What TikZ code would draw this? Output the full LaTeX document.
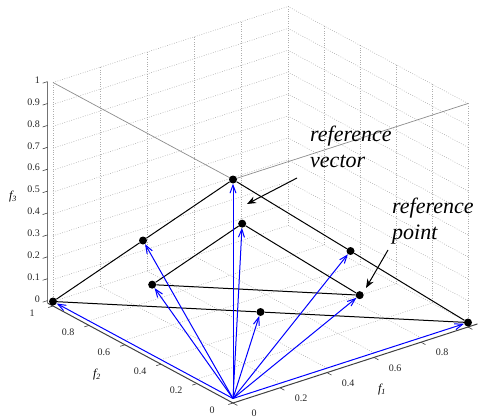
\documentclass[tikz,border=0pt]{standalone}
\usepackage{fontspec}
\setmainfont{Liberation Serif}
\newfontfamily\tnrfont{Liberation Serif}
\usetikzlibrary{arrows.meta}
\begin{document}
\begin{tikzpicture}[x=1pt,y=-1pt,
  gridline/.style={draw=black!32, line width=0.55pt, dash pattern=on 0.8pt off 1.6pt},
  boxedge/.style={draw=black!45, line width=0.7pt},
  axisline/.style={draw=black!75, line width=1pt},
  zaxisline/.style={draw=black!55, line width=1.1pt},
  tickmark/.style={draw=black!75, line width=0.6pt},
  ticklabel/.style={font=\tnrfont\fontsize{10}{12}\selectfont, inner sep=0pt, text=black!85},
  axislabel/.style={font=\tnrfont\fontsize{12}{14}\selectfont\itshape, inner sep=0pt},
  frontline/.style={draw=black, line width=1pt},
  vecarrow/.style={draw=blue, line width=1pt, -{Straight Barb[length=8pt,width=6pt]}},
  ptdot/.style={circle, fill=black, inner sep=0pt, minimum size=8pt},
  annot/.style={font=\tnrfont\fontsize{22}{26}\selectfont\itshape, align=left, inner sep=0pt},
  annotarrow/.style={draw=black, line width=1pt, -{Stealth[length=9pt,width=7pt]}}
]
\useasboundingbox (0,0) rectangle (485,420);
\coordinate (O) at (233,398.5);
\begin{scope}[shift={(O)}, x={(235pt,76pt)}, y={(-180pt,97pt)}, z={(0pt,219pt)}]
  % grid: floor
  \foreach \t in {0.2,0.4,0.6,0.8,1} {
    \draw[gridline] (\t,0,0) -- (\t,1,0);
    \draw[gridline] (0,\t,0) -- (1,\t,0);
  }
  % grid: walls
  \foreach \t in {0,0.2,0.4,0.6,0.8,1} {
    \draw[gridline] (\t,1,0) -- (\t,1,1);
    \draw[gridline] (1,\t,0) -- (1,\t,1);
  }
  \foreach \h in {0.1,0.2,0.3,0.4,0.5,0.6,0.7,0.8,0.9,1} {
    \draw[gridline] (0,1,\h) -- (1,1,\h);
    \draw[gridline] (1,0,\h) -- (1,1,\h);
  }
  % box edges
  \coordinate (TL) at (0,1,1);
  \coordinate (TF) at (0,0,1);
  \coordinate (TR) at (1,0,1);
  \draw[boxedge] (TL) -- (TF) -- (TR);
  % axes
  \coordinate (AO) at ([yshift=-4.5pt]0,0,0);
  \coordinate (AX) at ([yshift=-4.5pt]1.04,0,0);
  \coordinate (AY) at ([yshift=-4.5pt]0,1.03,0);
  \coordinate (AZ) at ([yshift=-2pt]0,1.03,1);
  \draw[axisline] (AX) -- (AO) -- (AY);
  \draw[zaxisline] (AY) -- (AZ);
  % f3 ticks
  \foreach \h in {0,0.1,0.2,0.3,0.4,0.5,0.6,0.7,0.8,0.9,1} {
    \coordinate (zt) at ([yshift=-2pt]0,1.03,\h);
    \draw[tickmark] (zt) -- ++(-5pt,-1.6pt);
    \node[ticklabel, anchor=east] at ([xshift=-7.5pt,yshift=1.5pt]zt) {\h};
  }
  % f2 ticks
  \foreach \t in {0,0.2,0.4,0.6,0.8,1} {
    \coordinate (yt) at ([yshift=-4.5pt]0,\t,0);
    \draw[tickmark] (yt) -- ++(-4.75pt,-1.5pt);
    \node[ticklabel] at ([xshift=-21pt,yshift=-11.5pt]0,\t,0) {\t};
  }
  % f1 ticks
  \foreach \t in {0,0.2,0.4,0.6,0.8} {
    \coordinate (xt) at ([yshift=-4.5pt]\t,0,0);
    \draw[tickmark] (xt) -- ++(4.4pt,-2.4pt);
    \node[ticklabel] at ([xshift=21pt,yshift=-15pt]\t,0,0) {\t};
  }
  \draw[tickmark] ([yshift=-4.5pt]1,0,0) -- ++(4.4pt,-2.4pt);
  % points
  \node[ptdot] (A) at (1,0,0) {};
  \node[ptdot] (B) at (0,1,0) {};
  \node[ptdot] (C) at (0,0,1) {};
  \node[ptdot] (AB) at (0.5,0.5,0) {};
  \node[ptdot] (AC) at (0.5,0,0.5) {};
  \node[ptdot] (BC) at (0,0.5,0.5) {};
  \node[ptdot] (IA) at (0.6667,0.1667,0.1667) {};
  \node[ptdot] (IB) at (0.1667,0.6667,0.1667) {};
  \node[ptdot] (IC) at (0.1667,0.1667,0.6667) {};
  \coordinate (P0) at (0,0,0);
\end{scope}
% triangle edges
\draw[frontline] (B) -- (BC) -- (C) -- (AC) -- (A) -- (AB) -- (B);
\draw[frontline] (IB) -- (IC) -- (IA) -- (IB);
% vectors
\foreach \p in {A,B,C,AB,AC,BC,IA,IB,IC} {
  \draw[vecarrow] (P0) -- (\p);
}
% axis labels
\node[axislabel] (lf3) at (13,197) {f\textsubscript{3}};
\node[axislabel] (lf2) at (97,375) {f\textsubscript{2}};
\node[axislabel] (lf1) at (382,390) {f\textsubscript{1}};
% annotations
\node[annot, anchor=base west] (rv) at (310,167) {reference\\vector};
\node[annot, anchor=base west] (rp) at (392,239) {reference\\point};
\coordinate (rvtail) at (297,178);
\coordinate (rvtip) at (247,204);
\coordinate (rptail) at (388,250);
\coordinate (rptip) at (366,288);
\draw[annotarrow] (rvtail) -- (rvtip);
\draw[annotarrow] (rptail) -- (rptip);
\end{tikzpicture}
\end{document}
